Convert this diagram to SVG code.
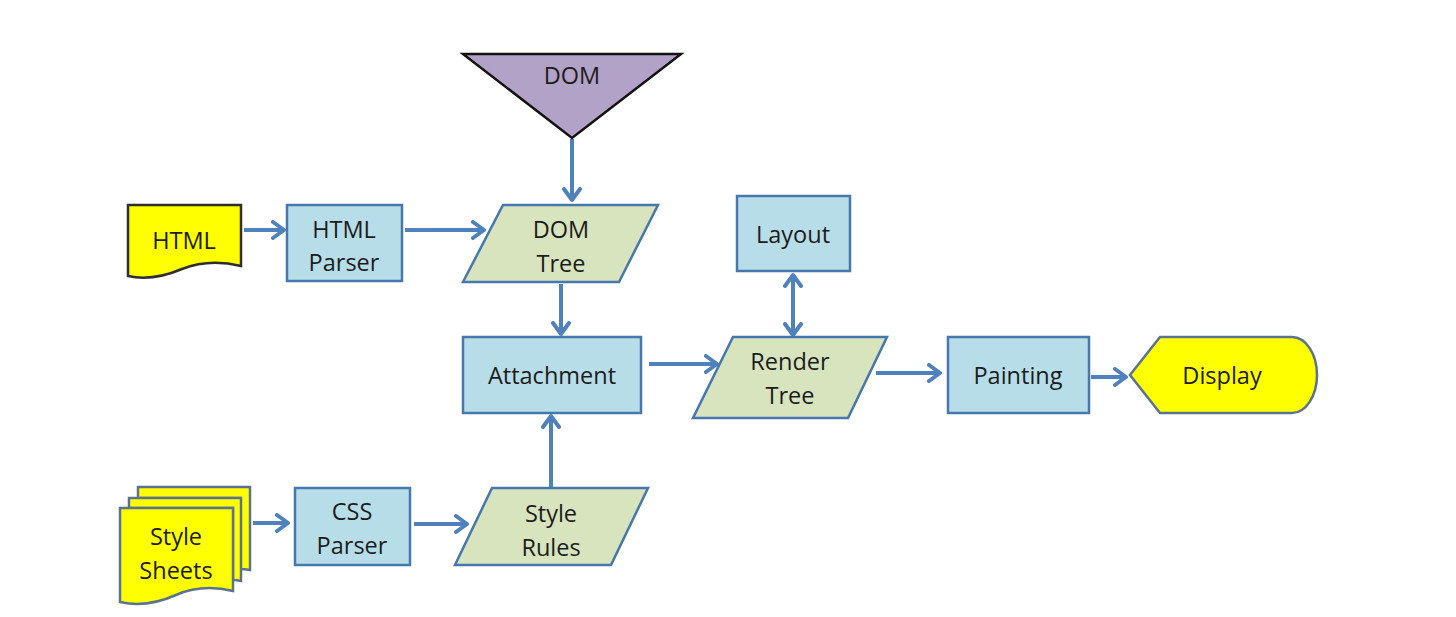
<svg xmlns="http://www.w3.org/2000/svg" width="1456" height="617" viewBox="0 0 1456 617">
  <defs>
    <marker id="arr" viewBox="0 0 16 20" markerWidth="16" markerHeight="20" refX="13" refY="10" orient="auto-start-reverse" markerUnits="userSpaceOnUse">
      <path d="M2,2 L13,10 L2,18" fill="none" stroke="#4F81BD" stroke-width="4" stroke-linecap="round" stroke-linejoin="round"/>
    </marker>
  </defs>
  <style>
    text { font-family: "Open Sans", "Noto Sans", "Liberation Sans", sans-serif; font-size: 23.5px; fill: #1c1c1c; text-anchor: middle; }
    .box { fill: #B7DEE8; stroke: #4677AE; stroke-width: 2.5; }
    .data { fill: #D7E4BD; stroke: #4677AE; stroke-width: 2.5; }
    .doc { fill: #FFFF00; stroke: #2e2e2e; stroke-width: 2.5; }
    .docb { fill: #FFFF00; stroke: #5b7390; stroke-width: 2.5; }
    .conn { stroke: #4F81BD; stroke-width: 4; fill: none; marker-end: url(#arr); }
  </style>
  <rect width="1456" height="617" fill="#ffffff"/>

  <g id="connectors">
    <line class="conn" x1="244" y1="230" x2="284" y2="230"/>
    <line class="conn" x1="405" y1="230" x2="484" y2="230"/>
    <line class="conn" x1="572" y1="139" x2="572" y2="200"/>
    <line class="conn" x1="561" y1="284" x2="561" y2="334"/>
    <line class="conn" x1="551" y1="488" x2="551" y2="416"/>
    <line class="conn" x1="649" y1="364" x2="717" y2="364"/>
    <line class="conn" x1="793" y1="275" x2="793" y2="335" style="marker-start:url(#arr)"/>
    <line class="conn" x1="876" y1="373" x2="940" y2="373"/>
    <line class="conn" x1="1091" y1="377" x2="1126" y2="377"/>
    <line class="conn" x1="253" y1="523" x2="288" y2="523"/>
    <line class="conn" x1="414" y1="524" x2="467" y2="524"/>
  </g>

  <g id="html">
    <path class="doc" d="M128,205 H241 V266 C220,261 200,262 182,269 C163,277 145,280 128,276 Z"/>
    <text x="184" y="249">HTML</text>
  </g>

  <g id="html-parser">
    <rect class="box" x="287" y="205" width="115" height="76"/>
    <text x="344" y="238">HTML</text>
    <text x="344" y="271">Parser</text>
  </g>

  <g id="dom">
    <path d="M463,54 H681 L572,138 Z" fill="#B3A2C7" stroke="#111" stroke-width="2.5" stroke-linejoin="miter"/>
    <text x="572" y="84">DOM</text>
  </g>

  <g id="dom-tree">
    <path class="data" d="M503,205 H658 L619,282 H463 Z"/>
    <text x="561" y="238">DOM</text>
    <text x="561" y="272">Tree</text>
  </g>

  <g id="layout">
    <rect class="box" x="737" y="196" width="113" height="75"/>
    <text x="793" y="243">Layout</text>
  </g>

  <g id="attachment">
    <rect class="box" x="463" y="337" width="178" height="76"/>
    <text x="552" y="384">Attachment</text>
  </g>

  <g id="render-tree">
    <path class="data" d="M733,337 H887 L848,418 H693 Z"/>
    <text x="790" y="370">Render</text>
    <text x="790" y="404">Tree</text>
  </g>

  <g id="painting">
    <rect class="box" x="948" y="337" width="141" height="76"/>
    <text x="1018" y="384">Painting</text>
  </g>

  <g id="display">
    <path class="docb" d="M1130,375 L1160,337 H1292 A25,38 0 0 1 1292,413 H1160 Z"/>
    <text x="1222" y="384">Display</text>
  </g>

  <g id="style-sheets">
    <path class="docb" d="M138,487 H250 V570 C243,569 240,569 240,569 V498 H138 Z"/>
    <path class="docb" d="M129,498 H241 V581 C237,580 233,580 233,580 V508 H129 Z"/>
    <path class="docb" d="M120,508 H233 V591 C212,586 192,588 176,595 C158,603 138,606 120,602 Z"/>
    <text x="176" y="545">Style</text>
    <text x="176" y="579">Sheets</text>
  </g>

  <g id="css-parser">
    <rect class="box" x="295" y="488" width="115" height="77"/>
    <text x="352" y="520">CSS</text>
    <text x="352" y="554">Parser</text>
  </g>

  <g id="style-rules">
    <path class="data" d="M492,488 H648 L611,565 H455 Z"/>
    <text x="551" y="522">Style</text>
    <text x="551" y="556">Rules</text>
  </g>
</svg>
